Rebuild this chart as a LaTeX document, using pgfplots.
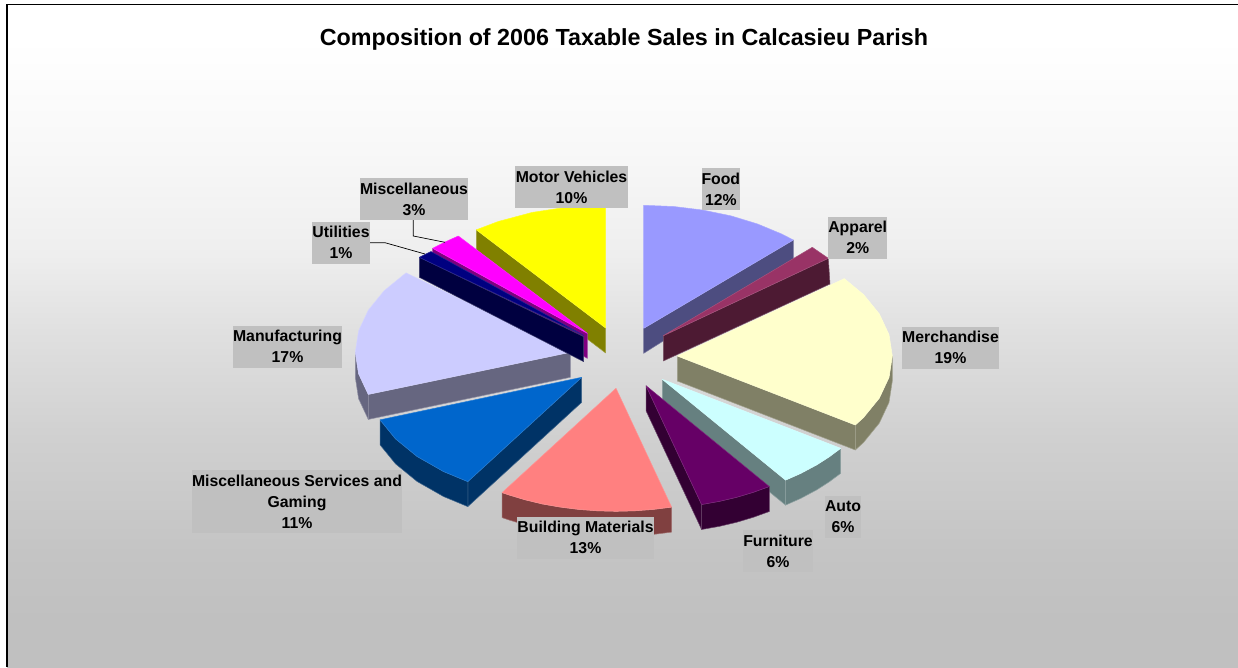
\documentclass[border=0pt]{standalone}
\usepackage{fontspec}
\setmainfont{Liberation Sans}
\usepackage{pgfplots}
\pgfplotsset{compat=1.18}

% Page backdrop: white at the top, fading to mid grey at the bottom
\definecolor{g1}{HTML}{C0C0C0}
\definecolor{g2}{HTML}{C4C4C4}
\definecolor{g3}{HTML}{D0D0D0}
\definecolor{g4}{HTML}{E0E0E0}
\definecolor{g5}{HTML}{EEEEEE}
\definecolor{g6}{HTML}{F8F8F8}
\pgfdeclareverticalshading{pagefade}{100bp}{
  color(0bp)=(g1); color(28.5bp)=(g1); color(33.6bp)=(g2); color(42.3bp)=(g3);
  color(50.3bp)=(g4); color(56.1bp)=(g5); color(64bp)=(g6);
  color(72.3bp)=(white); color(100bp)=(white)}

\definecolor{labelgray}{HTML}{C0C0C0}
\definecolor{motorT}{HTML}{FFFF00}\definecolor{motorW}{HTML}{808000}
\definecolor{foodT}{HTML}{9999FF}\definecolor{foodW}{HTML}{4D4D80}
\definecolor{appT}{HTML}{993366}\definecolor{appW}{HTML}{4D1A33}
\definecolor{merT}{HTML}{FFFFCC}\definecolor{merW}{HTML}{808066}
\definecolor{autT}{HTML}{CCFFFF}\definecolor{autW}{HTML}{668080}
\definecolor{furT}{HTML}{660066}\definecolor{furW}{HTML}{330033}
\definecolor{bldT}{HTML}{FF8080}\definecolor{bldW}{HTML}{804040}
\definecolor{svcT}{HTML}{0066CC}\definecolor{svcW}{HTML}{003366}
\definecolor{manT}{HTML}{CCCCFF}\definecolor{manW}{HTML}{666680}
\definecolor{utlT}{HTML}{000080}\definecolor{utlW}{HTML}{000040}
\definecolor{mscT}{HTML}{FF00FF}\definecolor{mscW}{HTML}{800080}

\tikzset{
  lab/.style={fill=labelgray, inner sep=0pt, align=center, text=black,
    font=\fontsize{15.8}{21}\selectfont\bfseries},
}
\pgfplotsset{
  wall/.style={fill=#1!100, draw=#1!75!white, line width=0.5pt, line join=round},
  face/.style={fill=#1, draw=#1!85!white, line width=0.5pt, line join=round},
}

\begin{document}
\begin{tikzpicture}
\begin{axis}[
  scale only axis, width=1238pt, height=667pt,
  xmin=0, xmax=1238, ymin=0, ymax=667, y dir=reverse,
  hide axis, no markers, clip=true,
]
% full page in white, then the backdrop and frame
\addplot[draw=none, fill=white] coordinates {(0,0)(1238,0)(1238,667)(0,667)} --cycle;
\addplot[draw=none, shading=pagefade] coordinates {(7,4)(1238,4)(1238,667)(7,667)} --cycle;
\addplot[black, line width=1.3pt] coordinates {(7,667)(7,4.3)(1238,4.3)};

% Motor Vehicles
\addplot[wall=motorW] coordinates {(476.3,229.8)(605.7,328)(605.7,353)(476.3,254.8)} --cycle;
\addplot[face=motorT] coordinates {(605.7,328)(476.3,229.8)(498.2,221.5)(532.2,212.4)(568.4,206.9)(605.7,205)} --cycle;

% Food
\addplot[wall=foodW] coordinates {(643.7,328.3)(793.3,240)(793.3,259)(643.7,353.3)} --cycle;
\addplot[face=foodT] coordinates {(643.7,328.3)(643.7,205.3)(673.6,206.5)(703,210.1)(731.1,215.9)(757.6,224)(781.9,234.1)(793.3,240)} --cycle;

% Apparel
\addplot[wall=appW] coordinates {(663.3,335.7)(828.3,258.3)(830,284)(663.3,361)} --cycle;
\addplot[face=appT] coordinates {(663.3,335.7)(812.3,247.3)(828.3,258.3)} --cycle;

% Merchandise
\addplot[wall=merW] coordinates {(855.3,425)(863.5,417.5)(879.3,398.1)(889,377.4)(892.3,356)(892.3,381)(889,402.4)(879.3,423.1)(863.5,442.5)(855.3,450)} --cycle;
\addplot[wall=merW] coordinates {(677.3,356)(855.3,425)(855.3,450)(677.3,381)} --cycle;
\addplot[face=merT] coordinates {(677.3,356)(844.3,278.6)(863.5,294.5)(879.3,313.9)(889,334.6)(892.3,356)(889,377.4)(879.3,398.1)(863.5,417.5)(855.3,425)} --cycle;

% Auto
\addplot[wall=autW] coordinates {(662.3,379.3)(785.6,480.1)(785.6,505.1)(662.3,404.3)} --cycle;
\addplot[wall=autW] coordinates {(785.6,480.1)(800.5,473.5)(817,464.7)(829.4,456.7)(840.7,448.3)(840.7,473.3)(829.4,481.7)(817,489.7)(800.5,498.5)(785.6,505.1)} --cycle;
\addplot[face=autT] coordinates {(662.3,379.3)(840.7,448.3)(829.4,456.7)(817,464.7)(800.5,473.5)(785.6,480.1)} --cycle;

% Furniture
\addplot[wall=furW] coordinates {(646,385.7)(701.6,504.5)(701.6,529.5)(646,410.7)} --cycle;
\addplot[wall=furW] coordinates {(701.6,504.5)(719.5,501.3)(736.9,497.2)(753.5,492.2)(769.3,486.5)(769.3,511.5)(753.5,517.2)(736.9,522.2)(719.5,526.3)(701.6,529.5)} --cycle;
\addplot[face=furT] coordinates {(646,385.7)(769.3,486.5)(753.5,492.2)(736.9,497.2)(719.5,501.3)(701.6,504.5)} --cycle;

% Building Materials
\addplot[wall=bldW] coordinates {(671.6,507.1)(653.3,509.4)(634.7,510.8)(616,511.3)(597.3,510.8)(578.7,509.4)(560.4,507.1)(542.5,504)(525.1,499.8)(508.5,494.8)(502.1,492.6)(502.1,517.6)(508.5,519.8)(525.1,524.8)(542.5,529)(560.4,532.1)(578.7,534.4)(597.3,535.8)(616,536.3)(634.7,535.8)(653.3,534.4)(671.6,532.1)} --cycle;
\addplot[face=bldT] coordinates {(616,388.3)(671.6,507.1)(653.3,509.4)(634.7,510.8)(616,511.3)(597.3,510.8)(578.7,509.4)(560.4,507.1)(542.5,504)(525.1,499.8)(508.5,494.8)(502.1,492.6)} --cycle;

% Miscellaneous Services and Gaming
\addplot[wall=svcW] coordinates {(581.7,377.3)(581.7,402.3)(467.8,506.6)(467.8,481.6)} --cycle;
\addplot[wall=svcW] coordinates {(467.8,481.6)(443.5,471.5)(417,456.4)(395.5,438.8)(380,419.8)(380,444.8)(395.5,463.8)(417,481.4)(443.5,496.5)(467.8,506.6)} --cycle;
\addplot[face=svcT] coordinates {(581.7,377.3)(467.8,481.6)(443.5,471.5)(417,456.4)(395.5,438.8)(380,419.8)} --cycle;

% Manufacturing
\addplot[wall=manW] coordinates {(368.3,394.4)(358.6,373.7)(355.3,352.3)(355.3,377.3)(358.6,398.7)(368.3,419.4)} --cycle;
\addplot[wall=manW] coordinates {(570.3,352.3)(570.3,377.3)(368.3,419.4)(368.3,394.4)} --cycle;
\addplot[face=manT] coordinates {(570.3,352.3)(406,272.9)(384.1,290.8)(368.3,310.2)(358.6,330.9)(355.3,352.3)(358.6,373.7)(368.3,394.4)} --cycle;

% Miscellaneous
\addplot[wall=mscW] coordinates {(432.7,248.3)(587.3,333.3)(587.3,358.3)(432.7,273.3)} --cycle;
\addplot[face=mscT] coordinates {(587.3,333.3)(432.7,248.3)(445.5,241.8)(458.3,236)} --cycle;

% Utilities
\addplot[wall=utlW] coordinates {(419.3,257.3)(583.7,336.7)(583.7,361.7)(419.3,277.3)} --cycle;
\addplot[face=utlT] coordinates {(584,335.5)(419.3,257.3)(431,251.5)} --cycle;

% leader lines
\addplot[black, line width=0.7pt] coordinates {(413.3,220)(413.3,236)(445,242.3)};
\addplot[black, line width=0.7pt] coordinates {(370,242.7)(385,242.7)(425,254)};

% title and labels
\node[font=\fontsize{23.3}{28}\selectfont\bfseries] at (axis cs:624,39) {Composition of 2006 Taxable Sales in Calcasieu Parish};
\node[lab, minimum width=113pt, minimum height=42pt] at (axis cs:571.5,187) {Motor Vehicles\\10\%};
\node[lab, minimum width=38.5pt, minimum height=42pt] at (axis cs:720.8,189) {Food\\12\%};
\node[lab, minimum width=58.5pt, minimum height=42pt] at (axis cs:857.7,238) {\raisebox{1pt}{Apparel}\\\raisebox{1pt}{2\%}};
\node[lab, minimum width=97pt, minimum height=42pt] at (axis cs:950.5,348) {\raisebox{1pt}{Merchandise}\\\raisebox{1pt}{19\%}};
\node[lab, minimum width=36pt, minimum height=42pt] at (axis cs:843,517) {Auto\\6\%};
\node[lab, minimum width=70pt, minimum height=42pt] at (axis cs:778,551) {Furniture\\6\%};
\node[lab, minimum width=137pt, minimum height=42pt] at (axis cs:585.5,538) {\raisebox{1pt}{Building Materials}\\\raisebox{1pt}{13\%}};
\node[lab, minimum width=210pt, minimum height=63pt] at (axis cs:297,501.5) {Miscellaneous Services and\\Gaming\\11\%};
\node[lab, minimum width=109pt, minimum height=42pt] at (axis cs:287.5,346.5) {\raisebox{1pt}{Manufacturing}\\\raisebox{1pt}{17\%}};
\node[lab, minimum width=58pt, minimum height=42pt] at (axis cs:341,243) {\raisebox{1pt}{Utilities}\\\raisebox{1pt}{1\%}};
\node[lab, minimum width=108pt, minimum height=42pt] at (axis cs:414,199) {Miscellaneous\\3\%};
\end{axis}
\end{tikzpicture}
\end{document}
